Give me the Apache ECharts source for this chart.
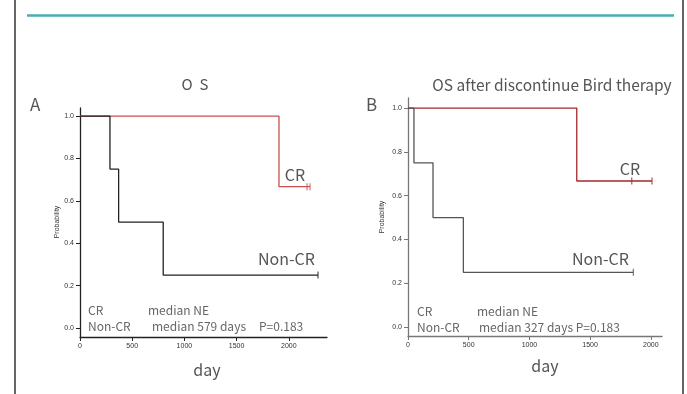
<!DOCTYPE html>
<html>
<head>
    <meta charset="UTF-8">
    <title>OS curves</title>
    <script src="https://cdn.jsdelivr.net/npm/echarts@6/dist/echarts.min.js"></script>
</head>
<body style="margin:0">
    <div id="chart" style="width:687px; height:394px;"></div>
    <script>
        // tick labels
        var xTicks = [0, 500, 1000, 1500, 2000];
        var yTicks = [0, 0.2, 0.4, 0.6, 0.8, 1.0];

        // panel A: OS
        var crA = [[0, 1], [1906, 0.667], [2203, 0.667]];
        var nonCrA = [[0, 1], [287, 0.75], [370, 0.5], [797, 0.25], [2280, 0.25]];
        var crCensorA = [[2175, 0.667], [2203, 0.667]];
        var nonCrCensorA = [[2280, 0.25]];

        // panel B: OS after discontinue Bird therapy
        var crB = [[0, 1], [1390, 0.667], [2010, 0.667]];
        var nonCrB = [[0, 1], [49, 0.75], [206, 0.5], [456, 0.25], [1856, 0.25]];
        var crCensorB = [[1843, 0.667], [2010, 0.667]];
        var nonCrCensorB = [[1856, 0.25]];

        var font = '"Noto Sans CJK JP", "Noto Sans", sans-serif';
        var chart = echarts.init(document.getElementById('chart'), null, {renderer: 'canvas'});

        function xAxis(idx, max, color) {
            return {
                type: 'value', gridIndex: idx, min: 0, max: max,
                axisLine: {onZero: false, lineStyle: {color: color, width: 1.3}},
                axisTick: {length: 4, customValues: xTicks, lineStyle: {color: color}},
                axisLabel: {customValues: xTicks, fontSize: 7, color: '#333', margin: 6, fontFamily: 'Liberation Sans',
                    formatter: function (v) { return String(v); }},
                splitLine: {show: false}
            };
        }
        function yAxis(idx, min, max, color) {
            return {
                type: 'value', gridIndex: idx, min: min, max: max,
                axisLine: {show: true, onZero: false, lineStyle: {color: color, width: 1.3}},
                axisTick: {show: true, length: 4, customValues: yTicks, lineStyle: {color: color}},
                axisLabel: {customValues: yTicks, fontSize: 7, color: '#333', margin: 6, fontFamily: 'Liberation Sans',
                    formatter: function (v) { return v.toFixed(1); }},
                splitLine: {show: false}
            };
        }
        function curve(data, idx, color) {
            return {
                type: 'line', xAxisIndex: idx, yAxisIndex: idx, data: data, step: 'end',
                symbol: 'none', lineStyle: {color: color, width: 1.3}, silent: true
            };
        }
        function censor(data, idx, color) {
            return {
                type: 'scatter', xAxisIndex: idx, yAxisIndex: idx, data: data,
                symbol: 'rect', symbolSize: [1.2, 7], itemStyle: {color: color}, silent: true
            };
        }
        function txt(x, y, s, size, color, align) {
            return {type: 'text', x: x, y: y, style: {text: s, fontSize: size, fill: color || '#555',
                fontFamily: font, align: align || 'left', verticalAlign: 'middle'}};
        }

        chart.setOption({
            animation: false,
            grid: [
                {left: 80, top: 108, width: 247, height: 229},
                {left: 408, top: 98, width: 254, height: 238}
            ],
            xAxis: [xAxis(0, 2366, '#222'), xAxis(1, 2092, '#777')],
            yAxis: [yAxis(0, -0.042, 1.038, '#222'), yAxis(1, -0.041, 1.046, '#777')],
            series: [
                curve(crA, 0, '#c8504e'),
                curve(nonCrA, 0, '#222'),
                censor(crCensorA, 0, '#c8504e'),
                censor(nonCrCensorA, 0, '#222'),
                curve(crB, 1, '#a3282a'),
                curve(nonCrB, 1, '#555'),
                censor(crCensorB, 1, '#a3282a'),
                censor(nonCrCensorB, 1, '#555')
            ],
            graphic: [
                {type: 'line', shape: {x1: 15, y1: 0, x2: 15, y2: 394}, style: {stroke: '#333', lineWidth: 1.5}},
                {type: 'line', shape: {x1: 683, y1: 0, x2: 683, y2: 394}, style: {stroke: '#333', lineWidth: 1.5}},
                {type: 'line', shape: {x1: 27, y1: 15.5, x2: 674, y2: 15.5}, style: {stroke: '#4aadb2', lineWidth: 2.5}},

                txt(195, 84, 'O  S', 15, '#555', 'center'),
                txt(30, 105, 'A', 17),
                txt(552, 85, 'OS after discontinue Bird therapy', 15.5, '#555', 'center'),
                txt(366, 105, 'B', 17),

                txt(295, 175, 'CR', 16, '#555', 'center'),
                txt(258, 259, 'Non-CR', 16),
                txt(630, 169, 'CR', 16, '#555', 'center'),
                txt(572, 259, 'Non-CR', 16),

                txt(88, 310, 'CR', 12, '#666'),
                txt(148, 310, 'median NE', 12, '#666'),
                txt(88, 326, 'Non-CR', 12, '#666'),
                txt(152, 326, 'median 579 days', 12, '#666'),
                txt(259, 326, 'P=0.183', 12, '#666'),

                txt(417, 311, 'CR', 12, '#666'),
                txt(477, 311, 'median NE', 12, '#666'),
                txt(417, 327, 'Non-CR', 12, '#666'),
                txt(479, 327, 'median 327 days P=0.183', 12, '#666'),

                txt(207, 370, 'day', 16, '#555', 'center'),
                txt(545, 366, 'day', 16, '#555', 'center'),

                {type: 'text', x: 57, y: 222, rotation: Math.PI / 2,
                    style: {text: 'Probability', fontSize: 7, fill: '#333', fontFamily: 'Liberation Sans',
                        align: 'center', verticalAlign: 'middle'}},
                {type: 'text', x: 382, y: 217, rotation: Math.PI / 2,
                    style: {text: 'Probability', fontSize: 7, fill: '#333', fontFamily: 'Liberation Sans',
                        align: 'center', verticalAlign: 'middle'}}
            ]
        });
    </script>
</body>
</html>
